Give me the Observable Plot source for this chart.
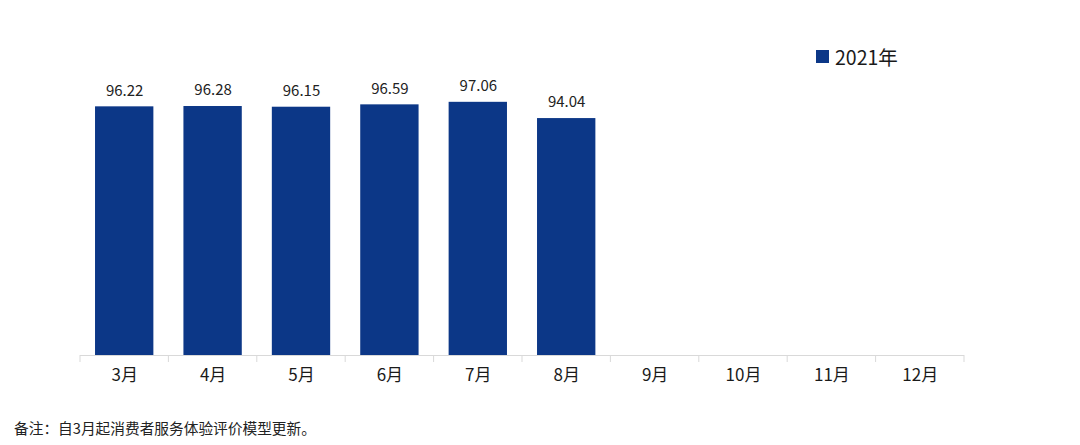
<!DOCTYPE html>
<html>
<head>
<meta charset="utf-8">
<script src="https://cdn.jsdelivr.net/npm/d3@7"></script>
<script src="https://cdn.jsdelivr.net/npm/@observablehq/plot@0.6"></script>
<style>
  html, body { margin: 0; padding: 0; background: #fff; }
  #wrap { position: relative; width: 1080px; height: 445px; font-family: "Noto Sans CJK SC", "Noto Sans", sans-serif; }
  #legend { position: absolute; left: 816px; top: 42px; font-size: 19.5px; color: #1a1a1a; display: flex; align-items: center; }
  #legend .sw { width: 13px; height: 13px; background: #0c3787; margin-right: 6px; }
  #note { position: absolute; left: 14px; top: 417px; font-size: 14.7px; color: #222; }
</style>
</head>
<body>
<div id="wrap">
  <div id="chart"></div>
  <div id="legend"><span class="sw"></span><span id="legendText"></span></div>
  <div id="note"></div>
</div>
<script>
const months = ["3月", "4月", "5月", "6月", "7月", "8月", "9月", "10月", "11月", "12月"];
const values2021 = [96.22, 96.28, 96.15, 96.59, 97.06, 94.04];
const seriesName = "2021年";
const yDomain = [50, 100];
const noteText = "备注：自3月起消费者服务体验评价模型更新。";

const data = values2021.map((v, i) => ({month: months[i], value: v}));
const barColor = "#0c3787";
const font = '"Noto Sans CJK SC", "Noto Sans", sans-serif';

const plot = Plot.plot({
  width: 1080,
  height: 445,
  marginLeft: 80,
  marginRight: 116,
  marginTop: 86,
  marginBottom: 90,
  style: {fontFamily: font, background: "#fff", color: "#1a1a1a"},
  x: {domain: months, paddingInner: 0.34, paddingOuter: 0.17, round: false, label: null},
  y: {domain: yDomain, axis: null},
  marks: [
    Plot.barY(data, {x: "month", y1: () => yDomain[0], y2: "value", fill: barColor}),
    Plot.ruleY([yDomain[0]], {stroke: "#d9d9d9", strokeWidth: 1}),
    Plot.text(data, {x: "month", y: "value", text: d => d.value.toFixed(2), dy: -16, fontSize: 15, fill: "#222"}),
    Plot.axisX({tickSize: 0, tickPadding: 13, fontSize: 17, fill: "#1a1a1a", label: null})
  ]
});

// boundary tick marks using the plot's own x scale
const xs = plot.scale("x");
const ys = plot.scale("y");
const gap = (xs.step - xs.bandwidth) / 2;
const bounds = months.map(m => xs.apply(m) - gap);
bounds.push(xs.apply(months[months.length - 1]) + xs.bandwidth + gap);
const y0 = ys.apply(yDomain[0]);
d3.select(plot).append("g")
  .attr("stroke", "#d9d9d9")
  .selectAll("line").data(bounds).join("line")
  .attr("x1", d => d).attr("x2", d => d)
  .attr("y1", y0).attr("y2", y0 + 7);

document.getElementById("chart").appendChild(plot);
document.getElementById("legendText").textContent = seriesName;
document.getElementById("note").textContent = noteText;
</script>
</body>
</html>
